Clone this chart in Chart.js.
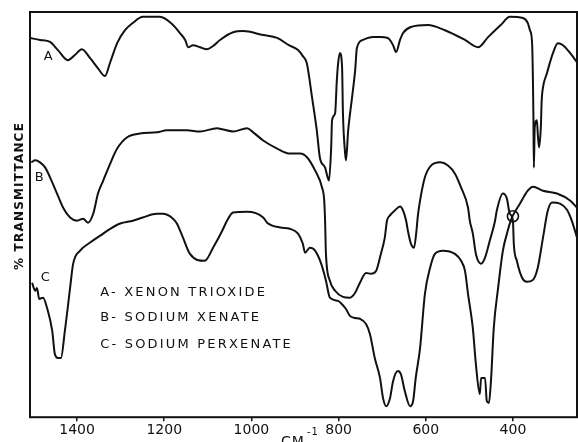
<!DOCTYPE html>
<html>
<head>
<meta charset="utf-8">
<script src="https://cdn.jsdelivr.net/npm/chart.js@4.4.1/dist/chart.umd.min.js"></script>
<style>
html,body{margin:0;padding:0;background:#fff;overflow:hidden;}
#wrap{position:relative;width:578px;height:442px;}
canvas{display:block;}
</style>
</head>
<body>
<div id="wrap"><canvas id="c" width="578" height="442"></canvas></div>
<script>
// Wavenumber (cm-1) and % transmittance (arbitrary offset scale, 0-100)
const waveA = [1508,1485,1462,1444,1421,1405,1389,1370,1352,1336,1324,1308,1290,1272,1249,1210,1180,1164,1152,1145,1134,1118,1102,1088,1072,1042,1019,973,941,914,893,882,873,861,850,843,831,822,817,815,808,804,801,797,792,790,785,783,778,769,762,758,744,721,705,687,675,668,659,652,634,595,556,510,480,457,428,407,377,366,361,356,354,353,352,350,345,343,340,336,334,331,322,308,297,285,269,253];
const transA = [93.6,93.1,92.6,90.6,88.1,89.4,90.8,88.6,86.1,84.2,87.6,92.3,95.5,97.3,98.8,98.8,96.8,94.8,93.1,91.3,91.8,91.3,90.8,91.6,93.1,95.0,95.3,94.3,93.6,91.8,90.6,89.1,87.4,79.0,70.8,64.1,61.6,58.4,66.6,73.3,75.0,83.2,87.4,89.9,86.4,75.0,65.1,63.4,70.8,79.0,85.6,91.1,93.1,93.8,93.8,93.6,91.8,90.1,93.1,94.8,96.3,96.8,95.5,93.1,91.3,93.8,96.8,98.8,98.5,97.3,95.5,92.3,82.4,74.0,61.6,71.5,73.3,70.0,66.6,71.5,78.2,81.4,84.9,89.9,92.3,91.8,89.9,87.6];

const waveB = [1505,1496,1485,1473,1462,1446,1432,1416,1400,1386,1375,1363,1352,1340,1324,1308,1285,1256,1216,1194,1148,1118,1079,1065,1042,1010,996,973,941,914,888,872,854,838,833,831,829,820,808,790,774,762,751,737,726,714,703,694,689,682,671,659,652,645,641,634,627,622,618,613,602,588,567,549,533,519,503,499,492,485,473,464,453,441,437,423,414,407,400,398,391,379,368,354,343,331,320,310,292,276,265,253];
const transB = [62.9,63.4,62.9,61.6,59.2,55.2,51.7,49.3,48.5,49.0,48.0,50.2,55.2,58.4,62.6,66.3,69.1,70.0,70.3,70.8,70.8,70.5,71.3,71.0,70.5,71.3,70.3,68.3,66.3,65.1,65.1,64.1,60.9,56.7,53.5,48.5,40.3,33.7,31.2,29.7,29.5,30.7,33.2,35.6,35.4,36.1,40.3,44.3,48.5,49.8,51.0,52.0,51.0,48.5,46.0,42.8,41.8,45.3,49.8,53.5,59.2,62.1,62.9,62.1,60.1,56.7,51.7,48.5,45.3,40.3,37.9,39.4,43.6,48.5,51.0,55.2,54.0,50.2,48.5,42.8,38.6,34.4,33.4,33.9,36.9,44.3,51.0,53.0,52.7,51.2,48.5,44.3];

const waveC = [1503,1501,1496,1492,1487,1478,1469,1457,1451,1444,1437,1428,1416,1409,1393,1370,1347,1324,1301,1272,1249,1217,1203,1180,1171,1157,1141,1107,1088,1067,1056,1042,1010,973,964,934,912,893,882,877,866,854,840,829,820,801,795,783,774,762,751,737,728,717,705,698,691,682,675,664,657,648,636,629,623,613,602,590,579,561,533,519,510,503,492,485,476,473,464,460,455,450,444,434,423,412,405,400,384,366,354,331,299,269,253];
const transC = [33.2,32.4,31.2,31.9,29.2,29.5,27.0,21.3,15.6,14.6,14.6,21.3,31.9,37.9,41.1,43.1,44.8,46.5,47.8,48.5,49.3,50.2,50.2,49.0,47.8,44.3,40.3,38.6,41.8,46.0,48.5,50.5,50.7,49.3,48.0,46.8,46.5,45.3,42.8,40.6,41.8,41.1,37.9,33.7,29.5,28.7,28.2,26.7,25.0,24.5,24.3,23.0,20.5,14.6,9.7,4.7,2.7,4.7,8.9,11.4,10.6,6.4,2.7,4.0,9.7,17.1,30.4,36.9,40.3,41.1,40.3,38.6,36.1,30.4,22.0,13.1,5.7,9.7,9.7,4.0,3.5,9.7,22.0,31.9,41.1,46.0,48.5,49.8,52.7,55.9,56.9,55.9,55.2,53.5,51.7];

const crossing = [{x: 400, y: 49.6}];
const tickValues = [1400, 1200, 1000, 800, 600, 400];
const curveLetters = [{t:'A', x:1466, y:88.9}, {t:'B', x:1487, y:59.2}, {t:'C', x:1473, y:34.4}];
const legendLines = [
  {t:'A- XENON TRIOXIDE', y:30.7},
  {t:'B- SODIUM XENATE', y:24.5},
  {t:'C- SODIUM PERXENATE', y:17.8}
];

function pts(xs, ys){ return xs.map((x,i)=>({x:x, y:ys[i]})); }

const lineStyle = {borderColor:'#111', borderWidth:2, pointRadius:0, fill:false, cubicInterpolationMode:'monotone'};

const annot = {
  id:'annot',
  afterDraw(chart){
    const ctx = chart.ctx, a = chart.chartArea, xs = chart.scales.x, ys = chart.scales.y;
    ctx.save();
    // frame
    ctx.strokeStyle = '#111'; ctx.lineWidth = 2;
    ctx.strokeRect(a.left, a.top, a.right - a.left, a.bottom - a.top);
    ctx.fillStyle = '#111';
    ctx.textBaseline = 'middle';
    // curve letters
    ctx.font = '13px "DejaVu Sans"';
    ctx.textAlign = 'center';
    curveLetters.forEach(l => ctx.fillText(l.t, xs.getPixelForValue(l.x), ys.getPixelForValue(l.y)));
    // legend text
    ctx.textAlign = 'left';
    ctx.font = '13px "DejaVu Sans"';
    ctx.letterSpacing = '2.2px';
    legendLines.forEach(l => ctx.fillText(l.t, xs.getPixelForValue(1347), ys.getPixelForValue(l.y)));
    // axis unit
    ctx.letterSpacing = '1px';
    ctx.font = '14px "DejaVu Sans"';
    ctx.fillText('CM', 281, 442);
    ctx.font = '10px "DejaVu Sans"';
    ctx.fillText('-1', 307, 432);
    // y title
    ctx.translate(20, 196);
    ctx.rotate(-Math.PI/2);
    ctx.textAlign = 'center';
    ctx.font = 'bold 12px "DejaVu Sans"';
    ctx.letterSpacing = '1.2px';
    ctx.fillText('% TRANSMITTANCE', 0, 0);
    ctx.restore();
  }
};

new Chart(document.getElementById('c'), {
  type: 'line',
  data: {
    datasets: [
      Object.assign({label:'A', data: pts(waveA, transA)}, lineStyle),
      Object.assign({label:'B', data: pts(waveB, transB)}, lineStyle),
      Object.assign({label:'C', data: pts(waveC, transC)}, lineStyle),
      {label:'crossing', type:'scatter', data: crossing, pointRadius:5.5, pointBorderWidth:1.6, borderColor:'#111', backgroundColor:'rgba(0,0,0,0)', clip:false}
    ]
  },
  options: {
    responsive: false,
    animation: false,
    devicePixelRatio: 1,
    layout: {autoPadding: false, padding: {left: 30, right: 1, top: 12, bottom: 2}},
    plugins: {legend: {display:false}, tooltip: {enabled:false}},
    scales: {
      x: {
        type: 'linear', reverse: true, min: 253, max: 1508,
        afterBuildTicks(s){ s.ticks = tickValues.map(v => ({value: v})); },
        afterFit(s){ s.paddingLeft = 0; s.paddingRight = 0; },
        grid: {drawOnChartArea:false, drawTicks:true, tickLength:4, color:'#111', lineWidth:1.5},
        border: {display:false},
        ticks: {color:'#111', font:{family:'DejaVu Sans', size:14}, padding:1, maxRotation:0, autoSkip:false,
                callback: v => String(v)}
      },
      y: {
        type: 'linear', min: 0, max: 100, display: false
      }
    }
  },
  plugins: [annot]
});
</script>
</body>
</html>
